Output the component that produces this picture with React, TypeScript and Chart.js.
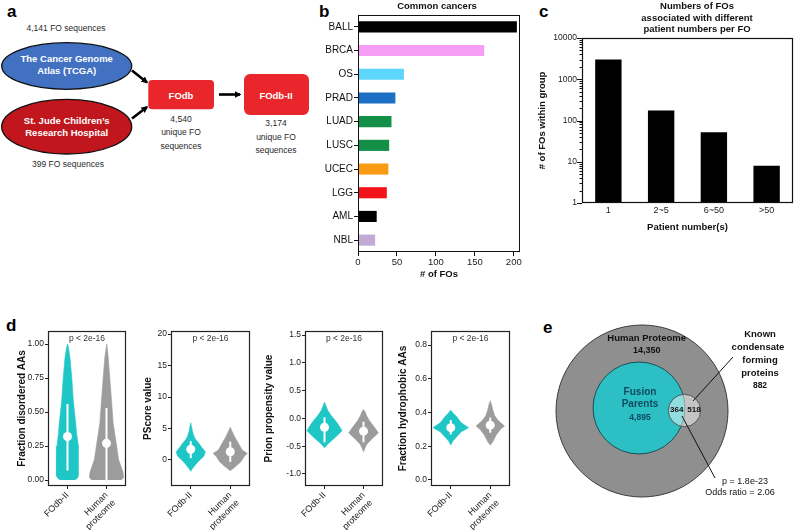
import React, { useEffect, useRef } from "react";
import { Chart, registerables } from "chart.js";

Chart.register(...registerables);

const FONT = 'Arial, "Liberation Sans", Helvetica, sans-serif';
Chart.defaults.font.family = FONT;
Chart.defaults.color = "#1a1a1a";

// ---------- Panel b: common cancers ----------
const cancerTypes = ["BALL", "BRCA", "OS", "PRAD", "LUAD", "LUSC", "UCEC", "LGG", "AML", "NBL"];
const cancerFOs = [204, 162, 59, 48, 43, 40, 39, 37, 24, 22];
const cancerColors = ["#000000", "#f79df5", "#5cd7fb", "#1d6fc5", "#148f47", "#148f47", "#f99b14", "#f2131b", "#000000", "#c2aad7"];
const cancerTicks = [0, 50, 100, 150, 200];

// ---------- Panel c: patient numbers per FO ----------
const patientGroups = ["1", "2~5", "6~50", ">50"];
const groupFOs = [3000, 175, 52, 8];
const groupTicks = [1, 10, 100, 1000, 10000];
const cTitle = ["Numbers of FOs", "associated with different", "patient numbers per FO"];

// ---------- Panel d: violins ----------
const violinGroups = ["FOdb-II", "Human proteome"];
const pText = "p < 2e-16";

const disFodbY = [0.0, 0.01, 0.03, 0.06, 0.15, 0.25, 0.35, 0.42, 0.58, 0.75, 0.9, 0.97, 1.0];
const disFodbW = [0.18, 0.24, 0.28, 0.29, 0.28, 0.27, 0.23, 0.21, 0.15, 0.11, 0.064, 0.026, 0.005];
const disHumY = [0.0, 0.02, 0.06, 0.15, 0.25, 0.42, 0.58, 0.75, 0.9, 1.0];
const disHumW = [0.38, 0.44, 0.42, 0.31, 0.26, 0.17, 0.13, 0.085, 0.044, 0.008];
const disMed = [0.32, 0.27];
const disFodbRange = [0.07, 0.56];
const disHumRange = [0.0, 0.53];
const disTicks = [0, 0.25, 0.5, 0.75, 1.0];

const psFodbY = [-1.8, -1.4, -1.0, -0.5, 0, 0.6, 1.3, 2, 2.6, 3.2, 3.7, 4.5, 5.3, 5.9];
const psFodbW = [0, 0.04, 0.09, 0.15, 0.23, 0.33, 0.37, 0.28, 0.21, 0.13, 0.085, 0.046, 0.02, 0];
const psHumY = [-1.7, -1.4, -1.06, -0.27, 0.5, 1.06, 1.6, 2.6, 3.7, 4.5, 5.2];
const psHumW = [0, 0.063, 0.13, 0.27, 0.35, 0.43, 0.3, 0.21, 0.11, 0.05, 0];
const psMed = [1.7, 1.3];
const psFodbRange = [0.3, 3.0];
const psHumRange = [-0.3, 2.9];
const psTicks = [0, 5, 10, 15, 20];

const prFodbY = [-0.53, -0.46, -0.4, -0.34, -0.22, -0.12, -0.04, 0.05, 0.14, 0.22, 0.29];
const prFodbW = [0, 0.085, 0.18, 0.28, 0.45, 0.36, 0.28, 0.17, 0.085, 0.04, 0];
const prHumY = [-0.6, -0.52, -0.46, -0.38, -0.26, -0.16, -0.04, 0.05, 0.12, 0.16];
const prHumW = [0, 0.046, 0.09, 0.2, 0.38, 0.28, 0.15, 0.077, 0.04, 0];
const prMed = [-0.16, -0.23];
const prFodbRange = [-0.43, 0.02];
const prHumRange = [-0.43, -0.06];
const prTicks = [-1.0, -0.5, 0, 0.5, 1.0, 1.5];

const hyFodbY = [0.207, 0.23, 0.256, 0.285, 0.31, 0.34, 0.375, 0.395, 0.414];
const hyFodbW = [0, 0.05, 0.15, 0.26, 0.45, 0.26, 0.15, 0.064, 0];
const hyHumY = [0.207, 0.227, 0.266, 0.3, 0.32, 0.34, 0.355, 0.38, 0.41, 0.44, 0.47];
const hyHumW = [0, 0.064, 0.15, 0.26, 0.36, 0.26, 0.19, 0.115, 0.07, 0.04, 0];
const hyMed = [0.31, 0.325];
const hyFodbRange = [0.27, 0.355];
const hyHumRange = [0.28, 0.37];
const hyTicks = [0, 0.2, 0.4, 0.6, 0.8];

// ---------- Panel e: Venn ----------
const vennSets = ["Human Proteome", "Fusion Parents", "Known condensate forming proteins"];
const vennSizes = [14350, 4895, 882];
const vennSplit = [364, 518];
const vennStats = ["p = 1.8e-23", "Odds ratio = 2.06"];

const CYAN = "#1fc6c6";
const GRAY = "#9c9c9c";

function txt(ctx: CanvasRenderingContext2D, s: string, x: number, y: number, size: number, weight = "normal", color = "#111", align: CanvasTextAlign = "center") {
  ctx.save();
  ctx.font = `${weight} ${size}px ${FONT}`;
  ctx.fillStyle = color;
  ctx.textAlign = align;
  ctx.textBaseline = "middle";
  ctx.fillText(s, x, y);
  ctx.restore();
}

const boxPlugin = {
  id: "box",
  afterDatasetsDraw(chart: any, _a: any, opts: any) {
    const { ctx, chartArea: a } = chart;
    ctx.save();
    ctx.strokeStyle = opts.color ?? "#000";
    ctx.lineWidth = opts.width ?? 1;
    const l = Math.round(a.left) + 0.5;
    const t = Math.round(a.top) + 0.5;
    const r = Math.round(a.right) - 0.5;
    const b = Math.round(a.bottom) - 0.5;
    ctx.strokeRect(l, t, r - l, b - t);
    ctx.restore();
  },
};

function ChartBox({ x, y, w, h, make }: { x: number; y: number; w: number; h: number; make: () => any }) {
  const ref = useRef<HTMLCanvasElement>(null);
  useEffect(() => {
    const c = new Chart(ref.current as HTMLCanvasElement, make());
    return () => c.destroy();
  }, []);
  return <canvas ref={ref} width={w} height={h} style={{ position: "absolute", left: x, top: y, width: w, height: h }} />;
}

// ---------- configs ----------
function configB() {
  return {
    type: "bar",
    data: {
      labels: cancerTypes,
      datasets: [{ data: cancerFOs, backgroundColor: cancerColors, barPercentage: 0.47, categoryPercentage: 1 }],
    },
    options: {
      indexAxis: "y",
      animation: false,
      responsive: false,
      events: [],
      layout: { autoPadding: false, padding: { top: 15, right: 10, left: 0, bottom: 0 } },
      plugins: { legend: { display: false }, tooltip: { enabled: false }, box: { color: "#111", width: 1 } },
      scales: {
        x: {
          type: "linear",
          min: 0,
          max: 208,
          afterBuildTicks: (s: any) => { s.ticks = cancerTicks.map((v) => ({ value: v })); },
          afterFit: (s: any) => { s.height = 33; },
          ticks: { font: { size: 9.5 }, color: "#222", padding: 1, maxRotation: 0, autoSkip: false },
          grid: { drawOnChartArea: false, tickLength: 4, color: "#111" },
          border: { display: false },
          title: { display: true, text: "# of FOs", font: { size: 9.5, weight: "bold" }, color: "#111", padding: { top: 0, bottom: 5 } },
        },
        y: {
          afterFit: (s: any) => { s.width = 68; },
          ticks: { font: { size: 10 }, color: "#111", padding: 1 },
          grid: { drawOnChartArea: false, tickLength: 4, color: "#111", offset: false },
          border: { display: false },
        },
      },
    },
    plugins: [
      boxPlugin,
      {
        id: "titleB",
        afterDraw(chart: any) {
          txt(chart.ctx, "Common cancers", 147, 6.5, 9.5, "bold", "#111");
        },
      },
    ],
  };
}

function configC() {
  const minor: number[] = [];
  groupTicks.slice(0, -1).forEach((d) => { for (let m = 1; m < 10; m++) minor.push(d * m); });
  minor.push(groupTicks[groupTicks.length - 1]);
  return {
    type: "bar",
    data: {
      labels: patientGroups,
      datasets: [{ data: groupFOs, backgroundColor: "#000", barPercentage: 0.5, categoryPercentage: 1 }],
    },
    options: {
      animation: false,
      responsive: false,
      events: [],
      layout: { autoPadding: false, padding: { top: 38, right: 7, left: 0, bottom: 0 } },
      plugins: { legend: { display: false }, tooltip: { enabled: false }, box: { color: "#111", width: 1.2 } },
      scales: {
        x: {
          afterFit: (s: any) => { s.height = 37; },
          ticks: { font: { size: 9 }, color: "#222", padding: 2, maxRotation: 0 },
          grid: { display: false, drawTicks: false },
          border: { display: false },
          title: { display: true, text: "Patient number(s)", font: { size: 9.5, weight: "bold" }, color: "#111", padding: { top: 0, bottom: 7 } },
        },
        y: {
          type: "logarithmic",
          min: 1,
          max: 10000,
          afterBuildTicks: (s: any) => { s.ticks = minor.map((v) => ({ value: v })); },
          afterFit: (s: any) => { s.width = 47; },
          ticks: {
            font: { size: 8.5 },
            color: "#222",
            padding: 5,
            autoSkip: false,
            callback: (v: any) => (groupTicks.includes(Number(v)) ? String(v) : ""),
          },
          grid: { display: false, drawTicks: false },
          border: { display: false },
          title: { display: true, text: "# of FOs within group", font: { size: 9.5, weight: "bold" }, color: "#111", padding: { top: 2, bottom: 0 } },
        },
      },
    },
    plugins: [
      boxPlugin,
      {
        id: "logTicks",
        afterDraw(chart: any) {
          const { ctx, chartArea: a, scales } = chart;
          const ys = scales.y;
          ctx.save();
          ctx.strokeStyle = "#111";
          ctx.lineWidth = 1;
          ys.ticks.forEach((t: any) => {
            const py = Math.round(ys.getPixelForValue(t.value)) + 0.5;
            const len = groupTicks.includes(t.value) ? 5 : 2.5;
            ctx.beginPath();
            ctx.moveTo(a.left - len, py);
            ctx.lineTo(a.left, py);
            ctx.stroke();
          });
          ctx.restore();
        },
      },
      {
        id: "titleC",
        afterDraw(chart: any) {
          cTitle.forEach((s, i) => txt(chart.ctx, s, 162, 6.5 + i * 11.5, 9.5, "bold", "#111"));
        },
      },
    ],
  };
}

type ViolinPanel = {
  title: string; min: number; max: number; ticks: number[]; digits: number;
  fodbY: number[]; fodbW: number[]; humY: number[]; humW: number[];
  med: number[]; fodbRange: number[]; humRange: number[];
};

const centers = [0.5, 1.5];

function outline(c: number, ys: number[], ws: number[]) {
  const right = ys.map((y, i) => ({ x: c + ws[i], y }));
  const left = ys.map((y, i) => ({ x: c - ws[i], y })).reverse();
  return [...right, ...left];
}

function violinConfig(p: ViolinPanel, yw: number) {
  return {
    type: "line",
    data: {
      datasets: [
        { data: outline(centers[0], p.fodbY, p.fodbW), fill: "shape", backgroundColor: CYAN, borderColor: CYAN, borderWidth: 0.6, pointRadius: 0, tension: 0, order: 3 },
        { data: outline(centers[1], p.humY, p.humW), fill: "shape", backgroundColor: GRAY, borderColor: GRAY, borderWidth: 0.6, pointRadius: 0, tension: 0, order: 3 },
        { data: p.fodbRange.map((y) => ({ x: centers[0], y })), borderColor: "#ffffff", borderWidth: 2, pointRadius: 0, fill: false, order: 2 },
        { data: p.humRange.map((y) => ({ x: centers[1], y })), borderColor: "#ffffff", borderWidth: 2, pointRadius: 0, fill: false, order: 2 },
        { data: centers.map((c, i) => ({ x: c, y: p.med[i] })), showLine: false, pointRadius: 4.5, pointBackgroundColor: "#ffffff", pointBorderColor: "#ffffff", pointBorderWidth: 0, order: 1 },
      ],
    },
    options: {
      animation: false,
      responsive: false,
      events: [],
      layout: { autoPadding: false, padding: { top: 11, right: 8, left: 0, bottom: 0 } },
      plugins: { legend: { display: false }, tooltip: { enabled: false }, box: { color: "#222", width: 1.2 } },
      scales: {
        x: {
          type: "linear",
          min: 0,
          max: 2,
          afterBuildTicks: (s: any) => { s.ticks = centers.map((v) => ({ value: v })); },
          afterFit: (s: any) => { s.height = 44; },
          ticks: {
            font: { size: 9 },
            color: "#222",
            padding: 1,
            autoSkip: false,
            minRotation: 45,
            maxRotation: 45,
            callback: (_v: any, i: number) => {
              const g = violinGroups[i];
              return g.includes(" ") ? g.split(" ") : g;
            },
          },
          grid: { drawOnChartArea: false, tickLength: 3, color: "#222" },
          border: { display: false },
        },
        y: {
          type: "linear",
          min: p.min,
          max: p.max,
          afterBuildTicks: (s: any) => { s.ticks = p.ticks.map((v) => ({ value: v })); },
          afterFit: (s: any) => { s.width = yw; },
          ticks: { font: { size: 8.5 }, color: "#222", padding: 1, autoSkip: false, callback: (v: any) => Number(v).toFixed(p.digits) },
          grid: { drawOnChartArea: false, tickLength: 3, color: "#222" },
          border: { display: false },
          title: { display: true, text: p.title, font: { size: 10, weight: "bold" }, color: "#111", padding: { top: 0, bottom: 0 } },
        },
      },
    },
    plugins: [
      boxPlugin,
      {
        id: "pval",
        afterDraw(chart: any) {
          const a = chart.chartArea;
          txt(chart.ctx, pText, (a.left + a.right) / 2, a.top + 7.5, 8.5, "normal", "#333");
        },
      },
    ],
  };
}

const panelsD: { x: number; boxL: number; boxR: number; p: ViolinPanel }[] = [
  { x: 16, boxL: 48, boxR: 126, p: { title: "Fraction disordered AAs", min: -0.044, max: 1.096, ticks: disTicks, digits: 2, fodbY: disFodbY, fodbW: disFodbW, humY: disHumY, humW: disHumW, med: disMed, fodbRange: disFodbRange, humRange: disHumRange } },
  { x: 142, boxL: 171, boxR: 250, p: { title: "PScore value", min: -4.13, max: 20.48, ticks: psTicks, digits: 0, fodbY: psFodbY, fodbW: psFodbW, humY: psHumY, humW: psHumW, med: psMed, fodbRange: psFodbRange, humRange: psHumRange } },
  { x: 263, boxL: 305, boxR: 383, p: { title: "Prion propensity value", min: -1.216, max: 1.572, ticks: prTicks, digits: 1, fodbY: prFodbY, fodbW: prFodbW, humY: prHumY, humW: prHumW, med: prMed, fodbRange: prFodbRange, humRange: prHumRange } },
  { x: 397, boxL: 431, boxR: 510, p: { title: "Fraction hydrophobic AAs", min: -0.0356, max: 0.883, ticks: hyTicks, digits: 1, fodbY: hyFodbY, fodbW: hyFodbW, humY: hyHumY, humW: hyHumW, med: hyMed, fodbRange: hyFodbRange, humRange: hyHumRange } },
];

// Venn layout (units = px, relative to the big circle's centre, y up)
const vennGeo = [
  { x: 0, y: 0, r: 86 },
  { x: -3, y: 3, r: 46 },
  { x: 42.5, y: 0.5, r: 16.2 },
];

function configE() {
  const fmt = (n: number) => n.toLocaleString("en-US");
  const known = vennSets[2].split(" ");
  const fusion = vennSets[1].split(" ");
  const labels: { t: string; x: number; y: number; s: number; w: string; c: string }[] = [
    { t: vennSets[0], x: 4.7, y: 72.7, s: 9.5, w: "bold", c: "#111" },
    { t: fmt(vennSizes[0]), x: 4.7, y: 60.3, s: 9, w: "bold", c: "#111" },
    { t: fusion[0], x: -2, y: 19, s: 10, w: "bold", c: "#0f4a60" },
    { t: fusion[1], x: -2, y: 7, s: 10, w: "bold", c: "#0f4a60" },
    { t: fmt(vennSizes[1]), x: -2, y: -7, s: 8.5, w: "bold", c: "#0f4a60" },
    { t: String(vennSplit[0]), x: 34.7, y: 1, s: 8, w: "bold", c: "#111" },
    { t: String(vennSplit[1]), x: 52, y: 1, s: 8, w: "bold", c: "#111" },
    { t: known[0], x: 118, y: 77, s: 9.5, w: "bold", c: "#111" },
    { t: known[1], x: 116, y: 64, s: 9.5, w: "bold", c: "#111" },
    { t: known[2], x: 118, y: 51, s: 9.5, w: "bold", c: "#111" },
    { t: known[3], x: 118, y: 38, s: 9.5, w: "bold", c: "#111" },
    { t: fmt(vennSizes[2]), x: 118, y: 25, s: 8.5, w: "bold", c: "#111" },
    { t: vennStats[0], x: 103, y: -71, s: 9, w: "normal", c: "#111" },
    { t: vennStats[1], x: 98, y: -82, s: 9, w: "normal", c: "#111" },
  ];
  return {
    type: "scatter",
    data: {
      datasets: [
        { data: [{ x: vennGeo[2].x, y: vennGeo[2].y }], pointRadius: vennGeo[2].r, backgroundColor: "rgba(255,255,255,0.48)", borderColor: "#555", borderWidth: 1, order: 1, clip: false },
        { data: [{ x: vennGeo[1].x, y: vennGeo[1].y }], pointRadius: vennGeo[1].r, backgroundColor: "#2cbfc3", borderColor: "#1d4d55", borderWidth: 1, order: 2, clip: false },
        { data: [{ x: vennGeo[0].x, y: vennGeo[0].y }], pointRadius: vennGeo[0].r, backgroundColor: "#8f8f8f", borderColor: "#3a3a3a", borderWidth: 1, order: 3, clip: false },
        { data: [{ x: 51, y: 10 }, { x: 91, y: 54 }], showLine: true, borderColor: "#111", borderWidth: 1, pointRadius: 0, order: 0 },
        { data: [{ x: 40, y: -5 }, { x: 73, y: -67 }], showLine: true, borderColor: "#111", borderWidth: 1, pointRadius: 0, order: 0 },
      ],
    },
    options: {
      animation: false,
      responsive: false,
      events: [],
      layout: { autoPadding: false, padding: 0 },
      plugins: { legend: { display: false }, tooltip: { enabled: false } },
      scales: {
        x: { type: "linear", display: false, min: -102, max: 158 },
        y: { type: "linear", display: false, min: -119, max: 91 },
      },
    },
    plugins: [
      {
        id: "vennText",
        afterDraw(chart: any) {
          const { ctx, scales } = chart;
          labels.forEach((l) => txt(ctx, l.t, scales.x.getPixelForValue(l.x), scales.y.getPixelForValue(l.y), l.s, l.w, l.c));
        },
      },
    ],
  };
}

function PanelA() {
  const small = { fontSize: 8.5, fill: "#2a2a2a", textAnchor: "middle" as const, dominantBaseline: "central" as const };
  const white = { fontSize: 9.5, fontWeight: "bold" as const, fill: "#ffffff", textAnchor: "middle" as const, dominantBaseline: "central" as const };
  return (
    <svg width={800} height={530} style={{ position: "absolute", left: 0, top: 0 }} fontFamily={FONT}>
      <defs>
        <marker id="arr" viewBox="0 0 10 10" refX="8" refY="5" markerWidth="2.6" markerHeight="2.6" orient="auto">
          <path d="M0,0 L10,5 L0,10 z" fill="#000" />
        </marker>
      </defs>
      <g fontWeight="bold" fontSize={17} fill="#000">
        <text x={7} y={17}>a</text>
        <text x={319} y={17}>b</text>
        <text x={539} y={17}>c</text>
        <text x={6} y={331}>d</text>
        <text x={543} y={333}>e</text>
      </g>
      <text x={66} y={28} {...small}>4,141 FO sequences</text>
      <ellipse cx={66.7} cy={66} rx={65} ry={23.3} fill="#4271c2" stroke="#111" strokeWidth={1.3} />
      <text x={66.7} y={58} {...white}>The Cancer Genome</text>
      <text x={66.7} y={70} {...white}>Atlas (TCGA)</text>
      <ellipse cx={66.7} cy={126.7} rx={65} ry={27.3} fill="#c1161e" stroke="#111" strokeWidth={1.3} />
      <text x={66.7} y={120} {...white}>St. Jude Children’s</text>
      <text x={66.7} y={132} {...white}>Research Hospital</text>
      <text x={68} y={164} {...small}>399 FO sequences</text>
      <line x1={132} y1={70.5} x2={147} y2={82.5} stroke="#000" strokeWidth={2.6} markerEnd="url(#arr)" />
      <line x1={132} y1={118.5} x2={147} y2={107} stroke="#000" strokeWidth={2.6} markerEnd="url(#arr)" />
      <rect x={148.3} y={80} width={65.7} height={29.3} rx={4} fill="#e8262c" />
      <text x={181} y={95} {...white}>FOdb</text>
      <text x={181} y={119.3} {...small}>4,540</text>
      <text x={181} y={132.3} {...small}>unique FO</text>
      <text x={181} y={145.7} {...small}>sequences</text>
      <line x1={219} y1={94.5} x2={240} y2={94.5} stroke="#000" strokeWidth={2.6} markerEnd="url(#arr)" />
      <rect x={244} y={74} width={65} height={41} rx={6} fill="#e8262c" />
      <text x={276} y={95} {...white}>FOdb-II</text>
      <text x={276} y={123.3} {...small}>3,174</text>
      <text x={276} y={136.7} {...small}>unique FO</text>
      <text x={276} y={150} {...small}>sequences</text>
    </svg>
  );
}

export default function App() {
  return (
    <div style={{ position: "absolute", left: 0, top: 0, width: 800, height: 530, background: "#fff", overflow: "hidden" }}>
      <PanelA />
      <ChartBox x={290} y={0} w={240} h={285} make={configB} />
      <ChartBox x={535} y={0} w={265} h={240} make={configC} />
      {panelsD.map((d, i) => (
        <ChartBox key={i} x={d.x} y={320} w={d.boxR + 8 - d.x} h={210} make={() => violinConfig(d.p, d.boxL - d.x)} />
      ))}
      <ChartBox x={540} y={320} w={260} h={210} make={configE} />
    </div>
  );
}
